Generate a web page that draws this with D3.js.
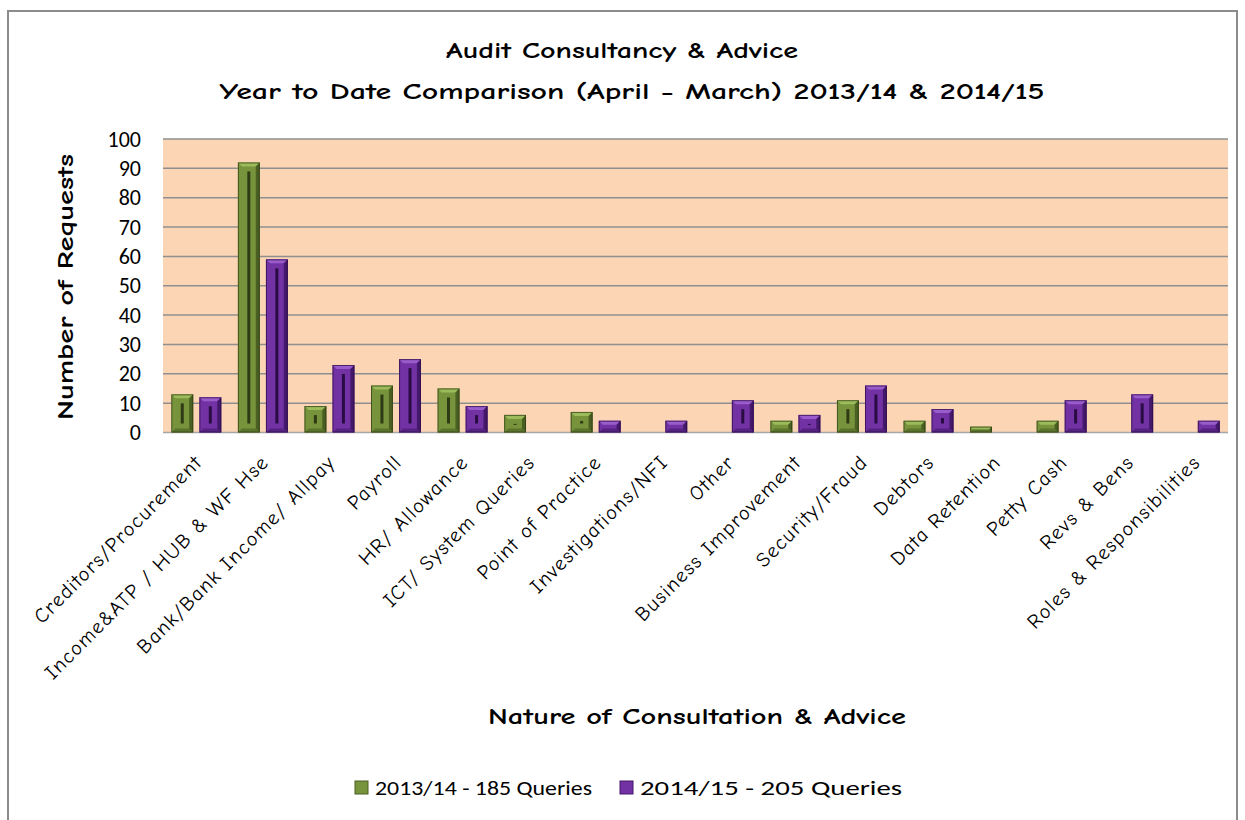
<!DOCTYPE html>
<html>
<head>
<meta charset="utf-8">
<script src="https://cdn.jsdelivr.net/npm/d3@7"></script>
<style>
  body { margin: 0; background: #fff; }
  svg { display: block; }
</style>
</head>
<body>
<svg id="chart" width="1245" height="820"></svg>
<script>
// 数据
const categories = [
  "Creditors/Procurement",
  "Income&ATP / HUB & WF Hse",
  "Bank/Bank Income/ Allpay",
  "Payroll",
  "HR/ Allowance",
  "ICT/ System Queries",
  "Point of Practice",
  "Investigations/NFI",
  "Other",
  "Business Improvement",
  "Security/Fraud",
  "Debtors",
  "Data Retention",
  "Petty Cash",
  "Revs & Bens",
  "Roles & Responsibilities"
];
const series2013 = [13, 92, 9, 16, 15, 6, 7, 0, 0, 4, 11, 4, 2, 4, 0, 0];
const series2014 = [12, 59, 23, 25, 9, 0, 4, 4, 11, 6, 16, 8, 0, 11, 13, 4];
const seriesNames = ["2013/14 - 185 Queries", "2014/15 - 205 Queries"];
const yTicks = [0, 10, 20, 30, 40, 50, 60, 70, 80, 90, 100];

const COMIC = "'Comic Sans MS', 'Comic Neue', 'DejaVu Sans', sans-serif";
const BODY = "Carlito, Calibri, 'Open Sans', sans-serif";

const palette = [
  { base: "#77933c", light: "#9cbb5a", dark: "#4a5f22", line: "#2e3b14" },
  { base: "#7232a3", light: "#9a5ccb", dark: "#44186a", line: "#2a0c45" }
];

const svg = d3.select("#chart");
const plot = { left: 163, right: 1228, top: 139, bottom: 432.5 };

// 外框
svg.append("rect")
  .attr("x", 8).attr("y", 11)
  .attr("width", 1229).attr("height", 830)
  .attr("fill", "#fff")
  .attr("stroke", "#8c8c8c")
  .attr("stroke-width", 2);

const x0 = d3.scaleBand()
  .domain(categories)
  .range([plot.left, plot.right])
  .paddingInner(0.25)
  .paddingOuter(0.125);
const x1 = d3.scaleBand()
  .domain([0, 1])
  .range([0, x0.bandwidth()])
  .paddingInner(0.22);
const y = d3.scaleLinear().domain([0, 100]).range([plot.bottom, plot.top]);

// 绘图区背景
svg.append("rect")
  .attr("x", plot.left).attr("y", plot.top)
  .attr("width", plot.right - plot.left)
  .attr("height", plot.bottom - plot.top)
  .attr("fill", "#fcd5b5");

// 网格线
svg.append("g")
  .selectAll("line")
  .data(yTicks)
  .join("line")
  .attr("x1", plot.left).attr("x2", plot.right)
  .attr("y1", d => y(d)).attr("y2", d => y(d))
  .attr("stroke", d => d === 0 ? "#a6a6a6" : "#8f8f8f")
  .attr("stroke-width", 1.5);

// y 轴标签
const yAxis = d3.axisLeft(y).tickValues(yTicks).tickSize(0).tickPadding(0);
svg.append("g")
  .attr("transform", `translate(${plot.left - 22},0)`)
  .call(yAxis)
  .call(g => g.select(".domain").remove())
  .selectAll("text")
  .attr("font-family", BODY)
  .attr("font-size", 22)
  .attr("fill", "#000");

// 柱子（斜面效果）
const rows = [];
categories.forEach((c, i) => {
  [series2013[i], series2014[i]].forEach((v, s) => {
    if (v > 0) rows.push({ c, s, v });
  });
});

svg.append("g")
  .selectAll("g")
  .data(rows)
  .join("g")
  .each(function(d) {
    const g = d3.select(this);
    const col = palette[d.s];
    const bx = x0(d.c) + x1(d.s);
    const bw = x1.bandwidth();
    const by = y(d.v);
    const bh = y(0) - by;
    const b = Math.min(4, bh / 2);

    g.append("rect")
      .attr("x", bx).attr("y", by)
      .attr("width", bw).attr("height", bh)
      .attr("fill", col.base);
    // 顶部亮面
    g.append("polygon")
      .attr("points", [[bx, by], [bx + bw, by], [bx + bw - b, by + b], [bx + b, by + b]].join(" "))
      .attr("fill", col.light);
    // 右侧暗面
    g.append("polygon")
      .attr("points", [[bx + bw, by], [bx + bw, by + bh], [bx + bw - b, by + bh - b], [bx + bw - b, by + b]].join(" "))
      .attr("fill", col.dark);
    // 底部
    g.append("polygon")
      .attr("points", [[bx, by + bh], [bx + bw, by + bh], [bx + bw - b, by + bh - b], [bx + b, by + bh - b]].join(" "))
      .attr("fill", col.dark)
      .attr("opacity", 0.6);
    // 中心暗线
    if (bh > 16) {
      g.append("rect")
        .attr("x", bx + bw / 2 - 1.5).attr("y", by + 9)
        .attr("width", 3).attr("height", Math.max(1, bh - 18))
        .attr("fill", col.line);
    }
    g.append("rect")
      .attr("x", bx + 0.5).attr("y", by + 0.5)
      .attr("width", bw - 1).attr("height", bh - 1)
      .attr("fill", "none")
      .attr("stroke", col.line)
      .attr("stroke-opacity", 0.7);
  });

// x 轴标签
svg.append("g")
  .selectAll("text")
  .data(categories)
  .join("text")
  .attr("transform", d => `translate(${x0(d) + x0.bandwidth() / 2 + 7},${plot.bottom + 31}) rotate(-45)`)
  .attr("text-anchor", "end")
  .attr("font-family", COMIC)
  .attr("font-size", 20.5)
  .attr("letter-spacing", 1.3)
  .attr("fill", "#000")
  .text(d => d);

// 标题
const title = svg.append("g")
  .attr("font-family", COMIC)
  .attr("font-weight", "bold")
  .attr("font-size", 22)
  .attr("text-anchor", "middle");
title.append("text").attr("x", 622).attr("y", 58).text("Audit Consultancy & Advice")
  .attr("textLength", 352).attr("lengthAdjust", "spacingAndGlyphs");
title.append("text").attr("x", 632).attr("y", 99).text("Year to Date Comparison  (April - March) 2013/14 & 2014/15")
  .attr("textLength", 825).attr("lengthAdjust", "spacingAndGlyphs");

// 轴标题
svg.append("text")
  .attr("transform", "translate(73,287) rotate(-90)")
  .attr("text-anchor", "middle")
  .attr("font-family", COMIC)
  .attr("font-weight", "bold")
  .attr("font-size", 22)
  .attr("textLength", 266).attr("lengthAdjust", "spacingAndGlyphs")
  .text("Number of Requests");

svg.append("text")
  .attr("x", 697).attr("y", 724)
  .attr("text-anchor", "middle")
  .attr("font-family", COMIC)
  .attr("font-weight", "bold")
  .attr("font-size", 22)
  .attr("textLength", 418).attr("lengthAdjust", "spacingAndGlyphs")
  .text("Nature of Consultation & Advice");

// 图例
const legendX = [355, 620];
const legendW = [237, 282];
const legend = svg.append("g")
  .selectAll("g")
  .data(seriesNames)
  .join("g")
  .attr("transform", (d, i) => `translate(${legendX[i]},781)`);
legend.append("rect")
  .attr("width", 13).attr("height", 13)
  .attr("fill", (d, i) => palette[i].base)
  .attr("stroke", (d, i) => palette[i].dark);
legend.append("text")
  .attr("x", 20).attr("y", 14)
  .attr("font-family", BODY)
  .attr("font-size", 21)
  .attr("textLength", (d, i) => legendW[i] - 20)
  .attr("lengthAdjust", "spacingAndGlyphs")
  .text(d => d);
</script>
</body>
</html>
